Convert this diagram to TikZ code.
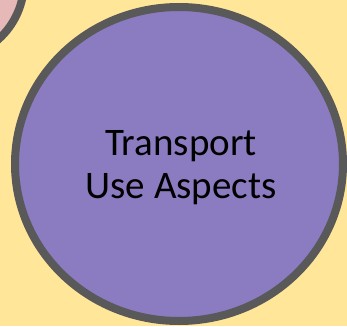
\documentclass[tikz,border=0pt]{standalone}
\usepackage{fontspec}
\setmainfont{Carlito}
\definecolor{bgyellow}{HTML}{FFE699}
\definecolor{circpurple}{HTML}{8B7BC0}
\definecolor{circpink}{HTML}{E6B8B7}
\definecolor{rimgray}{HTML}{595959}
\begin{document}
\begin{tikzpicture}[x=1pt,y=-1pt,
  rim/.style={draw=rimgray,line width=8pt}]
\fill[bgyellow] (0,0) rectangle (347,326);
\useasboundingbox (0,0) rectangle (347,326);
\begin{scope}
\clip (0,0) rectangle (347,326);
\draw[rim,fill=circpink] (-53,-18) circle[radius=77];
\draw[rim,fill=circpurple] (179,164) ellipse[x radius=164,y radius=157];
\end{scope}
\node[align=center,font=\fontsize{39}{43}\selectfont,inner sep=0pt] (label) at (181,168) {Transport\\Use Aspects};
\end{tikzpicture}
\end{document}
